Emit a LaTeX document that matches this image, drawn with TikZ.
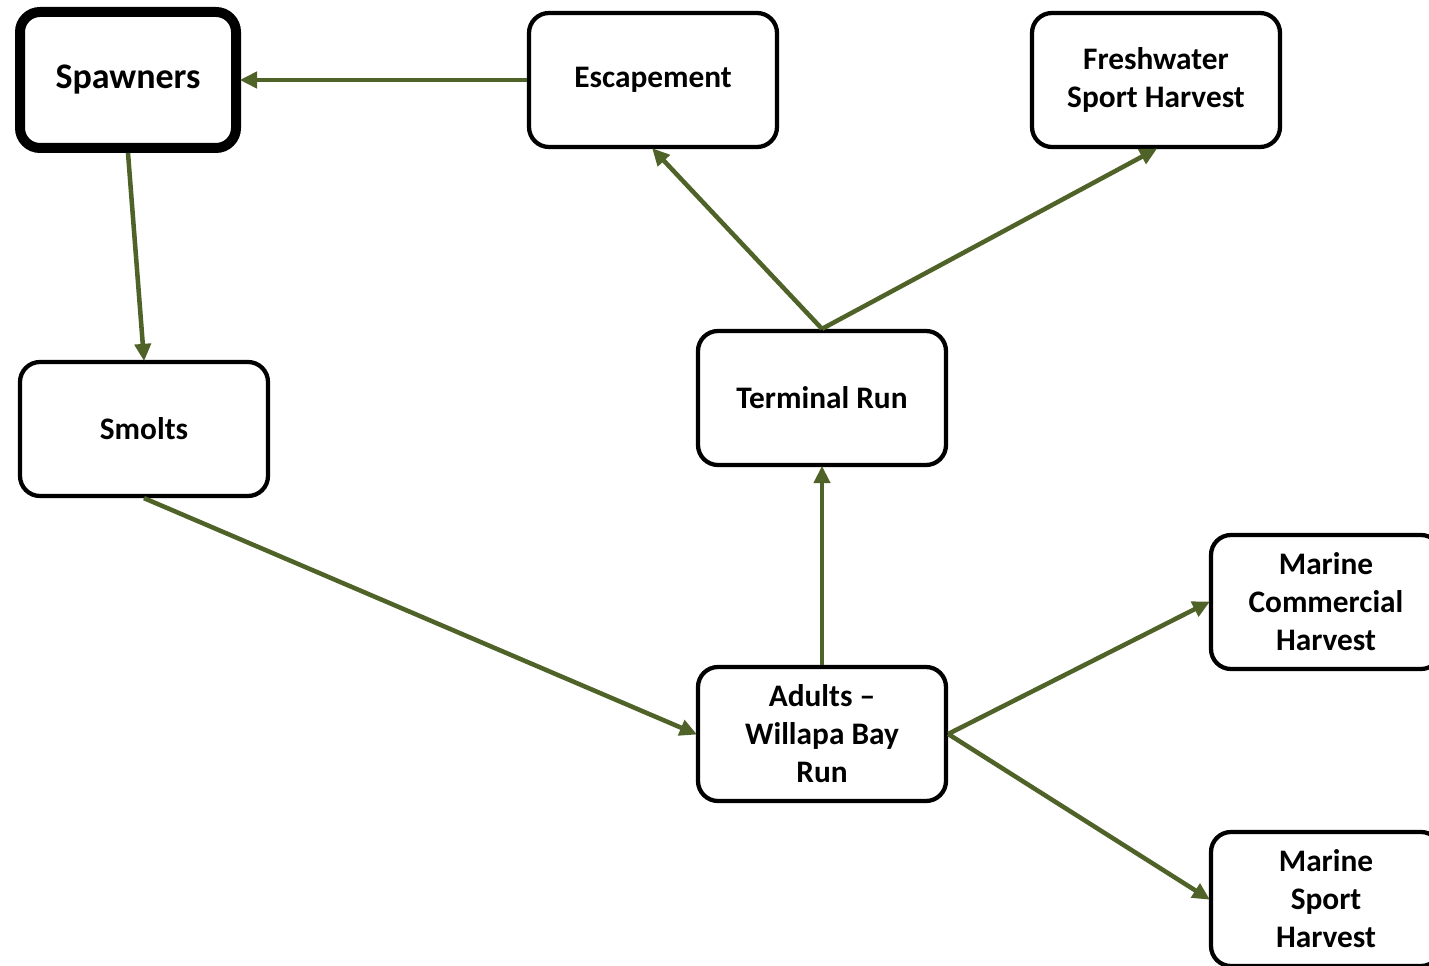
\documentclass[tikz,border=0pt]{standalone}
\usepackage{fontspec}
\setmainfont{Carlito}
\usetikzlibrary{arrows.meta}
\definecolor{arr}{HTML}{4F6228}
\tikzset{
  box/.style={draw=black, line width=3.2pt, rounded corners=15pt, fill=white, minimum width=186pt, minimum height=100.5pt, align=center, font=\fontsize{23.5}{28.5}\selectfont\bfseries, inner sep=0pt},
  thickbox/.style={box, line width=7.5pt, minimum width=162pt, minimum height=102pt, font=\fontsize{27}{32}\selectfont\bfseries},
  conn/.style={draw=arr, line width=3.4pt, -{Triangle[length=13pt,width=12pt]}, shorten >=-1pt}
}
\begin{document}
\begin{tikzpicture}[x=0.75pt,y=-0.75pt]
\useasboundingbox (0,0) rectangle (1429,966);
\clip (0,0) rectangle (1429,966);
\node[thickbox] (spw) at (128,80) {\raisebox{-2pt}{Spawners}};
\node[box] (esc) at (653,80) {\raisebox{-2pt}{Escapement}};
\node[box] (fsh) at (1156,80) {Freshwater\\Sport Harvest};
\node[box] (smo) at (144,429) {Smolts};
\node[box] (ter) at (822,398) {Terminal Run};
\node[box] (adu) at (822,734) {Adults --\\Willapa Bay\\Run};
\node[box, minimum width=172.5pt] (mch) at (1326,602) {Marine\\Commercial\\Harvest};
\node[box, minimum width=172.5pt] (msh) at (1326,899) {Marine\\Sport\\Harvest};
\draw[conn] (esc.west) -- (spw.east);
\draw[conn] (spw.south) -- (smo.north);
\draw[conn] (smo.south) -- (adu.west);
\draw[conn] (adu.north) -- (ter.south);
\draw[conn] (ter.north) -- (esc.south);
\draw[conn] (ter.north) -- (fsh.south);
\draw[conn] (adu.east) -- (mch.west);
\draw[conn] (adu.east) -- (msh.west);
\end{tikzpicture}
\end{document}
